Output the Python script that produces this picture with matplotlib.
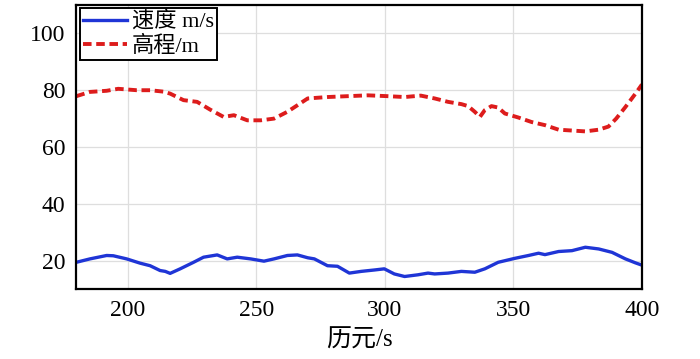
import matplotlib
matplotlib.use("Agg")
from matplotlib import pyplot as plt
import matplotlib.ticker as ticker

# elevation (red dashed)
t_elev = [180, 185.3, 191.8, 196.3, 203.5, 208.7, 213.9, 216.5, 221.7, 227, 232,
          237.3, 241.3, 246.5, 251.7, 256.9, 262.1, 266, 270, 277.7, 285.5,
          293.4, 301.2, 307.7, 314, 319.4, 324.6, 329.8, 332.4, 335, 337,
          338.9, 341.5, 344.1, 346.7, 351.9, 357.1, 362.3, 367.6, 372.8, 378,
          383.2, 387, 390, 393.6, 397.5, 400]
elev = [77.9, 79.4, 79.8, 80.5, 80.0, 80.0, 79.5, 78.8, 76.5, 75.9, 73.2,
        70.6, 71.2, 69.4, 69.4, 70.0, 72.4, 74.7, 77.1, 77.6, 77.9,
        78.2, 77.9, 77.6, 78.1, 77.1, 75.9, 75.1, 74.4, 72.4, 70.6,
        73.0, 74.4, 73.9, 71.8, 70.4, 68.8, 67.7, 66.1, 65.8, 65.5,
        66.1, 67.2, 70.0, 74.1, 78.8, 82.0]

# speed (blue)
t_speed = [180, 185.3, 191.8, 194.4, 199.6, 204.8, 208.7, 212.6, 214.6, 216.5,
           220.4, 225.6, 229.5, 234.8, 238.7, 242.6, 247.8, 253, 256.9, 262.1,
           266, 270, 272.6, 277.7, 281.6, 286.2, 290.8, 296, 299.8, 303.7,
           307.7, 312.9, 316.8, 319.4, 324.6, 329.8, 335, 338.9, 344.1, 350.6,
           355.9, 359.8, 362.3, 367.6, 372.8, 378, 383.2, 388.4, 393.6, 397.5,
           400]
speed = [19.4, 20.6, 21.8, 21.7, 20.6, 19.1, 18.2, 16.5, 16.2, 15.5,
         17.1, 19.4, 21.2, 22.0, 20.6, 21.2, 20.6, 19.8, 20.6, 21.8,
         22.0, 21.0, 20.6, 18.2, 18.0, 15.6, 16.2, 16.7, 17.1, 15.3,
         14.4, 15.0, 15.6, 15.3, 15.6, 16.2, 15.9, 17.1, 19.4, 20.8,
         21.8, 22.6, 22.1, 23.2, 23.5, 24.7, 24.1, 22.9, 20.6, 19.2,
         18.4]

xticks = [200, 250, 300, 350, 400]
yticks = [20, 40, 60, 80, 100]

plt.rcParams["font.family"] = ["Liberation Serif", "Noto Sans CJK SC"]
plt.rcParams["font.size"] = 15

fig = plt.figure(figsize=(7, 3.59), dpi=100)
ax = fig.add_axes([0.109, 0.195, 0.808, 0.791])

ax.plot(t_speed, speed, color="#1f35d6", lw=2.4, label="速度 m/s")
ax.plot(t_elev, elev, color="#dd1c1c", lw=2.8, ls=(0, (2.2, 1.2)), label="高程/m")

ax.set_xlim(180, 400)
ax.set_ylim(10, 110)
ax.xaxis.set_major_locator(ticker.FixedLocator(xticks))
ax.yaxis.set_major_locator(ticker.FixedLocator(yticks))
ax.tick_params(length=0, labelsize=17, pad=8)
ax.grid(True, color="#dedede", lw=0.9)
for s in ax.spines.values():
    s.set_linewidth(1.6)

ax.set_xlabel("历元/s", fontsize=18, labelpad=6)

leg = ax.legend(loc="upper left", fontsize=16, frameon=True, fancybox=False,
                edgecolor="black", framealpha=1, borderpad=0.15,
                handlelength=2.0, handletextpad=0.2, labelspacing=0.12,
                borderaxespad=0.15)
leg.get_frame().set_linewidth(1.4)

fig.savefig("out.png", dpi=100)
